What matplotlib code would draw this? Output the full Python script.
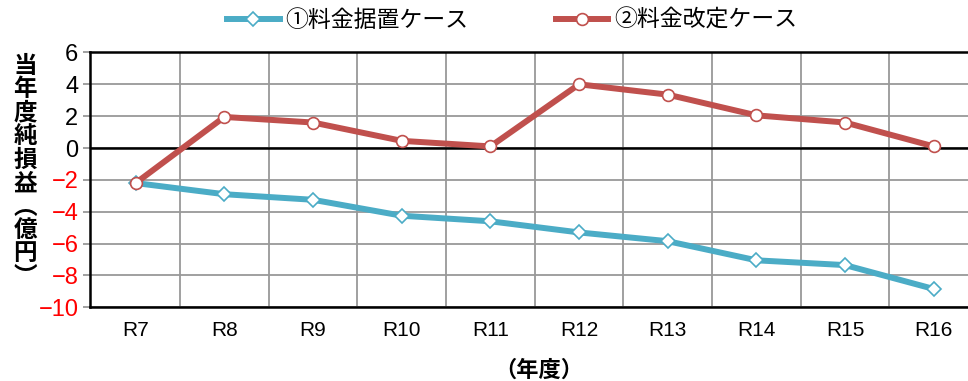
import matplotlib
matplotlib.use("Agg")
import matplotlib.pyplot as plt
from matplotlib.ticker import FixedLocator

# 年度別の当年度純損益（億円）
years = ["R7", "R8", "R9", "R10", "R11", "R12", "R13", "R14", "R15", "R16"]
case1 = [-2.2, -2.9, -3.25, -4.25, -4.6, -5.3, -5.85, -7.05, -7.35, -8.85]
case2 = [-2.2, 1.95, 1.6, 0.45, 0.1, 4.0, 3.35, 2.05, 1.6, 0.1]
yticks = [6, 4, 2, 0, -2, -4, -6, -8, -10]

JP = ["Noto Sans CJK JP", "DejaVu Sans"]
NUM = ["Liberation Sans Narrow", "Liberation Sans", "DejaVu Sans"]

fig = plt.figure(figsize=(9.68, 3.81), dpi=100)
ax = fig.add_axes([0.0925, 0.1934, 0.918, 0.669])

x = list(range(len(years)))
ax.plot(x, case1, color="#4BACC6", linewidth=4.3, marker="D", markersize=7.5,
        markerfacecolor="white", markeredgecolor="#4BACC6", markeredgewidth=1.2,
        label="①料金据置ケース", zorder=4)
ax.plot(x, case2, color="#C0504D", linewidth=4.3, marker="o", markersize=8.5,
        markerfacecolor="white", markeredgecolor="#C0504D", markeredgewidth=1.2,
        label="②料金改定ケース", zorder=5)

ax.set_xlim(-0.52, len(years) - 0.5)
ax.set_ylim(-10, 6)
ax.axhline(0, color="black", linewidth=1.8, zorder=3)

ax.set_xticks(x)
ax.set_xticklabels(years, family=NUM, fontsize=15)
ax.xaxis.set_minor_locator(FixedLocator([i + 0.5 for i in x[:-1]]))
ax.tick_params(axis="x", which="both", length=0, pad=10)
ax.grid(True, axis="x", which="minor", color="#999999", linewidth=1.3)

ax.set_yticks(yticks)
ax.set_yticklabels([f"{v}".replace("-", "\u2212") for v in yticks], family=NUM, fontsize=17)
for lbl, v in zip(ax.get_yticklabels(), yticks):
    lbl.set_color("red" if v < 0 else "black")
ax.tick_params(axis="y", length=5, width=1.3, color="#999999", pad=3)
ax.grid(True, axis="y", which="major", color="#999999", linewidth=1.3)
ax.set_axisbelow(True)

for side in ["left", "top", "bottom"]:
    ax.spines[side].set_color("black")
    ax.spines[side].set_linewidth(1.8)
ax.spines["right"].set_visible(False)

fig.text(0.026, 0.55, "\n".join("当年度純損益︵億円︶"), family=JP, fontsize=17,
         fontweight="bold", ha="center", va="center", linespacing=0.97)
fig.text(0.557, 0.029, "（年度）", family=JP, fontsize=16, fontweight="bold",
         ha="center", va="center")

fig.legend(loc="center", bbox_to_anchor=(0.529, 0.947), ncol=2, frameon=False,
           prop={"family": JP, "size": 16.5}, handlelength=2.3, columnspacing=3.8,
           handletextpad=0.25)

fig.savefig("out.png", dpi=100)
